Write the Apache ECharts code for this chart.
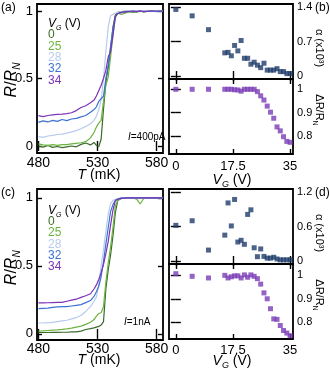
<!DOCTYPE html>
<html>
<head>
<meta charset="utf-8">
<script src="https://cdn.jsdelivr.net/npm/echarts@6/dist/echarts.min.js"></script>
<style>
  html, body { margin: 0; padding: 0; background: #fff; }
  #chart { width: 330px; height: 370px; }
</style>
</head>
<body>
<div id="chart"></div>
<script>
// temperatures (mK) shared by all R/RN curves
const temps = [480, 484, 488, 492, 496, 500, 504, 508, 512, 516, 520, 524, 527, 529, 531, 533,
  535, 537, 539, 541, 543, 545, 547, 550, 555, 560, 563, 566, 569, 575, 580, 585];
const gateNames = ['0', '25', '28', '32', '34'];

// (a) I = 400 pA
const a_vg0 = [0.0, -0.008, 0.004, -0.01, -0.004, -0.012, -0.006, 0.0, -0.006, 0.012, 0.022, 0.008, 0.026, 0.004, -0.006, 0.05,
  0.27, 0.47, 0.58, 0.72, 0.88, 0.97, 0.99, 0.995, 1.0, 0.99, 0.995, 1.0, 0.993, 1.0, 0.998, 1.0];
const a_vg25 = [0.015, 0.008, 0.004, 0.01, 0.004, 0.01, 0.01, 0.016, 0.02, 0.024, 0.032, 0.06, 0.1, 0.14, 0.17, 0.19,
  0.33, 0.45, 0.51, 0.66, 0.82, 0.95, 0.985, 0.975, 0.99, 0.995, 0.99, 1.0, 0.995, 1.0, 0.998, 1.0];
const a_vg28 = [0.07, 0.064, 0.074, 0.078, 0.085, 0.088, 0.095, 0.104, 0.114, 0.128, 0.145, 0.165, 0.19, 0.22, 0.27, 0.34,
  0.5, 0.7, 0.88, 0.965, 0.975, 0.985, 0.99, 0.995, 1.0, 0.995, 1.0, 0.998, 1.0, 0.995, 1.0, 1.0];
const a_vg32 = [0.175, 0.186, 0.178, 0.19, 0.182, 0.196, 0.188, 0.2, 0.205, 0.216, 0.226, 0.25, 0.27, 0.29, 0.33, 0.35,
  0.37, 0.5, 0.6, 0.74, 0.87, 0.96, 0.98, 0.99, 0.995, 1.0, 0.995, 1.0, 0.998, 1.0, 0.995, 1.0];
const a_vg34 = [0.225, 0.218, 0.226, 0.23, 0.234, 0.236, 0.24, 0.246, 0.262, 0.285, 0.298, 0.32, 0.34, 0.37, 0.41, 0.45,
  0.5, 0.56, 0.66, 0.7, 0.82, 0.96, 0.98, 0.99, 0.995, 1.0, 0.998, 1.0, 0.995, 1.0, 1.0, 1.0];

// (c) I = 1 nA
const c_vg0 = [0.01, 0.01, 0.01, 0.011, 0.011, 0.012, 0.012, 0.014, 0.015, 0.02, 0.032, 0.038, 0.044, 0.05, 0.055, 0.065,
  0.09, 0.33, 0.47, 0.58, 0.72, 0.89, 0.98, 0.995, 1.0, 1.0, 1.0, 1.0, 1.0, 1.0, 1.0, 1.0];
const c_vg25 = [0.02, 0.022, 0.025, 0.028, 0.03, 0.033, 0.037, 0.042, 0.05, 0.057, 0.07, 0.085, 0.105, 0.13, 0.15, 0.155,
  0.2, 0.38, 0.52, 0.64, 0.78, 0.94, 0.98, 0.995, 1.0, 1.0, 0.99, 0.955, 0.995, 1.0, 1.0, 1.0];
const c_vg28 = [0.08, 0.08, 0.082, 0.085, 0.09, 0.095, 0.1, 0.11, 0.12, 0.135, 0.165, 0.2, 0.24, 0.27, 0.36, 0.5,
  0.62, 0.75, 0.88, 0.96, 0.98, 0.99, 0.995, 1.0, 1.0, 1.0, 1.0, 1.0, 1.0, 1.0, 1.0, 1.0];
const c_vg32 = [0.185, 0.188, 0.19, 0.195, 0.198, 0.2, 0.2, 0.205, 0.21, 0.215, 0.23, 0.245, 0.275, 0.31, 0.35, 0.42,
  0.53, 0.66, 0.78, 0.9, 0.95, 0.98, 0.99, 1.0, 1.0, 1.0, 1.0, 1.0, 1.0, 1.0, 1.0, 1.0];
const c_vg34 = [0.228, 0.228, 0.229, 0.23, 0.231, 0.232, 0.24, 0.248, 0.255, 0.268, 0.28, 0.295, 0.33, 0.36, 0.4, 0.45,
  0.51, 0.59, 0.68, 0.8, 0.91, 0.98, 0.99, 0.995, 1.0, 1.0, 1.0, 1.0, 1.0, 1.0, 1.0, 1.0];

// gate voltages (V) of the points in (b) and (d)
const gateV = [0, 5, 10, 15, 16, 17, 18, 19, 20, 21, 22, 23, 24, 25, 26, 27, 28, 29, 30, 31, 32, 33, 34, 35];
const alphaB = [1.35, 1.22, 0.94, 0.47, 0.48, 0.41, 0.62, 0.51, 0.72, 0.36, 0.36, 0.24, 0.28, 0.22, 0.17, 0.26,
  0.12, 0.12, 0.12, 0.15, 0.09, 0.09, 0.05, 0.05];
const dRB = [1.0, 1.0, 1.0, 1.0, 1.0, 1.0, 0.998, 0.997, 0.992, 1.0, 1.0, 1.0, 1.0, 0.99, 0.972, 0.954,
  0.928, 0.902, 0.876, 0.839, 0.822, 0.797, 0.777, 0.773];
const alphaD = [0.62, 0.70, 0.19, 0.45, 1.01, 0.61, 1.07, 0.33, 0.36, 0.29, 0.81, 0.89, 0.23, 0.075, 0.21, 0.08,
  0.05, 0.05, 0.065, 0.035, 0.02, 0.02, 0.02, 0.02];
const dRD = [1.006, 0.995, 0.988, 0.999, 0.988, 0.993, 0.997, 0.997, 0.988, 1.001, 0.991, 1.001, 0.995, 0.985, 0.962, 0.925,
  0.9, 0.858, 0.815, 0.813, 0.787, 0.766, 0.755, 0.744];

// tick labels
const tTicks = [480, 530, 580];
const rTicks = [0, 0.5, 1];
const vTicks = [0, 17.5, 35];
const alphaTicksB = [0, 0.7, 1.4];
const alphaTicksD = [0, 0.6, 1.2];
const dRTicks = [0.8, 0.9, 1];

const F = '"Liberation Sans", Arial, sans-serif';
const lineColors = ['#3b6a2a', '#6cb33f', '#b7cbef', '#3d72d3', '#7b33b8'];
const navy = '#1f3c6c';
const violet = '#7a3cb6';

const grids = [];
const xAxes = [];
const yAxes = [];
const series = [];

// one framed panel, ticks inside on all four sides
function panel(box, xr, yr, xt, yt, showX, yLabelSide, xFont, xMargin) {
  const g = grids.length;
  grids.push({ left: box[0], top: box[1], width: box[2], height: box[3], show: true,
    borderColor: '#000', borderWidth: 1.8, backgroundColor: 'transparent', outerBoundsMode: 'none' });
  ['bottom', 'top'].forEach(function (pos) {
    xAxes.push({ type: 'value', gridIndex: g, position: pos, min: xr[0], max: xr[1],
      axisLine: { show: false }, splitLine: { show: false },
      axisTick: { inside: true, length: 5, customValues: xt, lineStyle: { color: '#000', width: 1.4 } },
      axisLabel: { show: pos === 'bottom' && showX, customValues: xt, margin: xMargin,
        fontSize: xFont, fontFamily: F, color: '#000' } });
  });
  ['left', 'right'].forEach(function (pos) {
    yAxes.push({ type: 'value', gridIndex: g, position: pos, min: yr[0], max: yr[1],
      axisLine: { show: false }, splitLine: { show: false },
      axisTick: { inside: true, length: 5, customValues: yt, lineStyle: { color: '#000', width: 1.4 } },
      axisLabel: { show: pos === yLabelSide, customValues: yt, margin: 4,
        fontSize: pos === 'left' ? 13 : 11, fontFamily: F, color: '#000' } });
  });
  return g;
}

function curves(g, sets) {
  sets.forEach(function (vals, k) {
    series.push({ type: 'line', xAxisIndex: 2 * g, yAxisIndex: 2 * g, symbol: 'none',
      lineStyle: { width: 1.2, color: lineColors[k] },
      data: temps.map(function (t, i) { return [t, vals[i]]; }) });
  });
}

function points(g, vals, color) {
  series.push({ type: 'scatter', xAxisIndex: 2 * g, yAxisIndex: 2 * g + 1, symbol: 'rect', symbolSize: 5,
    itemStyle: { color: color }, z: 5,
    data: gateV.map(function (v, i) { return [v, vals[i]]; }) });
}

const ga = panel([37, 4, 126, 149], [478.8, 585.3], [-0.052, 1.052], tTicks, rTicks, true, 'left', 14, 3);
const gb1 = panel([169, 4, 124, 75], [-2.1, 35.9], [-0.06, 1.46], vTicks, alphaTicksB, false, 'right', 13, 4);
const gb2 = panel([169, 79, 124, 75], [-2.1, 35.9], [0.723, 1.044], vTicks, dRTicks, true, 'right', 13, 6);
const gc = panel([37, 189, 126, 151], [478.8, 585.3], [-0.045, 1.065], tTicks, rTicks, true, 'left', 14, 2);
const gd1 = panel([169, 189, 124, 75], [-2.1, 35.9], [-0.052, 1.252], vTicks, alphaTicksD, false, 'right', 13, 4);
const gd2 = panel([169, 264, 124, 75], [-2.1, 35.9], [0.73, 1.047], vTicks, dRTicks, true, 'right', 13, 5);

curves(ga, [a_vg0, a_vg25, a_vg28, a_vg32, a_vg34]);
curves(gc, [c_vg0, c_vg25, c_vg28, c_vg32, c_vg34]);
points(gb1, alphaB, navy);
points(gb2, dRB, violet);
points(gd1, alphaD, navy);
points(gd2, dRD, violet);

function rich(size) {
  return {
    i: { fontStyle: 'italic', fontSize: size, fontFamily: F, lineHeight: size + 4, fill: '#000' },
    n: { fontSize: size, fontFamily: F, lineHeight: size + 4, fill: '#000' },
    s: { fontStyle: 'italic', fontSize: Math.round(size * 0.62), fontFamily: F, lineHeight: size + 4,
      verticalAlign: 'bottom', fill: '#000' },
    u: { fontSize: Math.round(size * 0.62), fontFamily: F, lineHeight: size + 4, verticalAlign: 'bottom', fill: '#000' }
  };
}

function txt(x, y, text, size, o) {
  o = o || {};
  return { type: 'text', x: x, y: y, rotation: o.rot || 0, z: 10,
    style: { text: text, fontSize: size, fontFamily: F, fill: o.color || '#000',
      align: o.align || 'center', verticalAlign: 'middle', rich: rich(size) } };
}

const graphics = [];
[[0, 'a'], [185, 'c']].forEach(function (p) {
  const dy = p[0];
  graphics.push(txt(1, 8 + dy, '(' + p[1] + ')', 12, { align: 'left' }));
  graphics.push(txt(12, 80 + dy * 1.015, '{i|R}{n|/}{i|R}{s|N}', 16, { rot: Math.PI / 2 }));
  graphics.push(txt(99, 175 + dy, '{i|T}{n| (mK)}', 14));
  graphics.push(txt(48, 24 + dy * 1.01, '{i|V}{s|G}{n| (V)}', 12, { align: 'left' }));
  gateNames.forEach(function (name, k) {
    graphics.push(txt(48, 35 + k * 11.3 + dy * 1.01, name, 12, { align: 'left', color: lineColors[k] }));
  });
});
graphics.push(txt(128, 137, '{i|I}{n|=400pA}', 10, { align: 'left' }));
graphics.push(txt(124, 322, '{i|I}{n|=1nA}', 10, { align: 'left' }));

[[0, 'b'], [185, 'd']].forEach(function (p) {
  const dy = p[0];
  graphics.push(txt(315, 8 + dy, '(' + p[1] + ')', 12, { align: 'left' }));
  graphics.push(txt(319, 48 + dy, '{n|α (x10³)}', 11, { rot: -Math.PI / 2 }));
  graphics.push(txt(319, 110 + dy, '{n|ΔR/R}{u|N}', 11, { rot: -Math.PI / 2 }));
  graphics.push(txt(232, 180 + dy * 0.98, '{i|V}{s|G}{n| (V)}', 14));
});

const chart = echarts.init(document.getElementById('chart'), null, { renderer: 'canvas' });
chart.setOption({
  animation: false,
  backgroundColor: '#fff',
  grid: grids,
  xAxis: xAxes,
  yAxis: yAxes,
  series: series,
  graphic: graphics
});
</script>
</body>
</html>
